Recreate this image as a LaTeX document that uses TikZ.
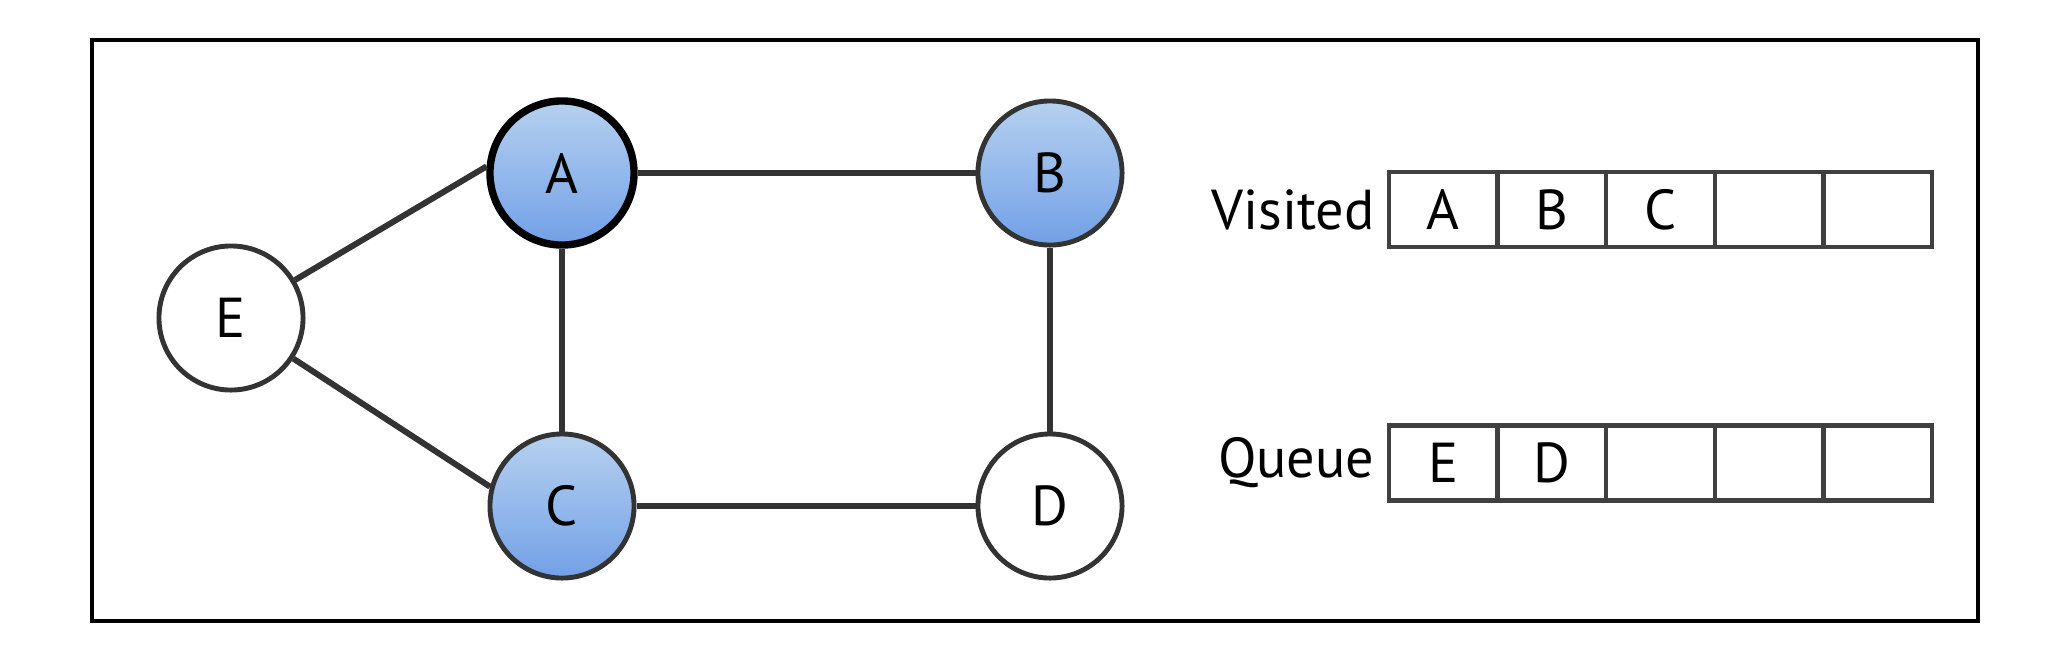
\documentclass[tikz,border=0pt]{standalone}
\usepackage{fontspec}
\setmainfont{PT Sans}
\usetikzlibrary{positioning}
\definecolor{vblueA}{HTML}{B6D1F0}
\definecolor{vblueB}{HTML}{72A0E6}
\definecolor{edgegray}{HTML}{333333}
\begin{document}
\begin{tikzpicture}[
  x=0.01cm, y=-0.01cm,
  vertex/.style={circle, draw=edgegray, line width=1.4pt, minimum size=1.44cm, inner sep=0pt, fill=white},
  seen/.style={vertex, top color=vblueA, bottom color=vblueB},
  cell/.style={draw=black!75, line width=1.2pt, minimum width=1.086cm, minimum height=0.75cm, inner sep=0pt},
  link/.style={draw=edgegray, line width=1.7pt},
  every node/.style={font=\fontsize{16}{19}\selectfont}
]
  \useasboundingbox (0,0) rectangle (2072,669);
  \draw[line width=1pt] (92,40) rectangle (1978,621);

  \node[seen, draw=black, line width=2.1pt] (A) at (562,173) {A};
  \node[seen] (B) at (1050,173) {B};
  \node[seen] (C) at (562,506) {C};
  \node[vertex] (D) at (1050,506) {D};
  \node[vertex] (E) at (231,318) {E};

  \draw[link] (A) -- (B);
  \draw[link] (A) -- (C);
  \draw[link] (B) -- (D);
  \draw[link] (C) -- (D);
  \draw[link] (E) -- (A.175);
  \draw[link] (E) -- (C.165);

  \foreach \t [count=\i] in {A,B,C,{},{}}
    \node[cell] (v\i) at ({1443.3+108.6*(\i-1)},209.5) {\t};
  \foreach \t [count=\i] in {E,D,{},{},{}}
    \node[cell] (q\i) at ({1443.3+108.6*(\i-1)},463) {\t};

  \node[left=0pt of v1] (visited) {Visited};
  \node[left=0pt of q1] (queue) {Queue};
\end{tikzpicture}
\end{document}
